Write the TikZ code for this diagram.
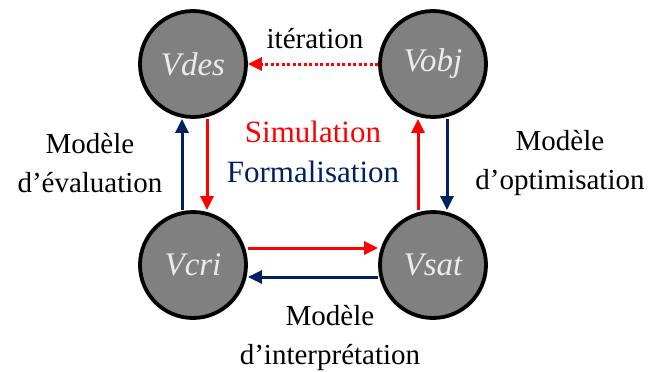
\documentclass[tikz,border=0pt]{standalone}
\usepackage{fontspec}
\setmainfont{Liberation Serif}
\usetikzlibrary{arrows.meta}
\definecolor{navy}{HTML}{002060}
\definecolor{circtext}{HTML}{EBEBEB}
\definecolor{circfill}{HTML}{808080}
\begin{document}
\begin{tikzpicture}[x=1pt,y=-1pt,
  vnode/.style={circle,draw=black,line width=3.8pt,fill=circfill,minimum size=106pt,inner sep=0pt,text=circtext,font=\fontsize{33}{38}\selectfont\itshape},
  lbl/.style={align=center,font=\fontsize{29}{39}\selectfont},
  arr/.style={line width=3pt,-{Triangle[length=14pt,width=13pt]}},
  ]
\useasboundingbox (0,0) rectangle (649,372);
\node[vnode] (des) at (193,64) {Vdes};
\node[vnode] (obj) at (433,64) {Vobj};
\node[vnode] (cri) at (193,265) {Vcri};
\node[vnode] (sat) at (433,265) {Vsat};
% left pair
\draw[arr,navy] (cri.north -| 182,0) -- (des.south -| 182,0);
\draw[arr,red] (des.south -| 207,0) -- (cri.north -| 207,0);
% right pair
\draw[arr,red] (sat.north -| 418,0) -- (obj.south -| 418,0);
\draw[arr,navy] (obj.south -| 447,0) -- (sat.north -| 447,0);
% bottom pair
\draw[arr,red] (cri.east |- 0,248) -- (sat.west |- 0,248);
\draw[arr,navy] (sat.west |- 0,277) -- (cri.east |- 0,277);
% dotted
\draw[arr,red,dash pattern=on 3pt off 2.5pt] (obj.west) -- (des.east);
\node[lbl] (it) at (315,39) {itération};
\node[lbl,text=red,font=\fontsize{31}{38}\selectfont] (sim) at (313,132) {Simulation};
\node[lbl,text=navy,font=\fontsize{31}{38}\selectfont] (form) at (313,172) {Formalisation};
\node[lbl] (le) at (90,163) {Modèle\\d’évaluation};
\node[lbl] (re) at (560,163) {Modèle\\d’optimisation};
\node[lbl] (be) at (330,338) {Modèle\\d’interprétation};
\end{tikzpicture}
\end{document}
